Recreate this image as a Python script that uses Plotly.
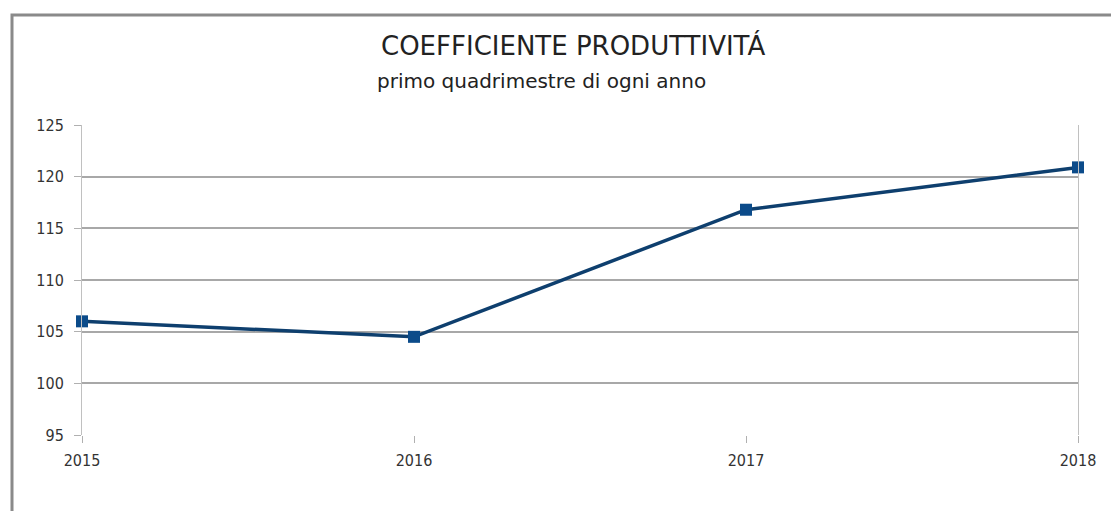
import plotly.graph_objects as go

# Productivity coefficient, first four-month period of each year
years = [2015, 2016, 2017, 2018]
coefficient = [106.0, 104.5, 116.8, 120.9]
y_ticks = [95, 100, 105, 110, 115, 120, 125]
x_ticks = [2015, 2016, 2017, 2018]

title_text = "COEFFICIENTE PRODUTTIVITÁ"
subtitle_text = "primo quadrimestre di ogni anno"

fig = go.Figure()
fig.add_trace(go.Scatter(
    x=years, y=coefficient, mode="lines+markers",
    line=dict(color="#0e3f6e", width=3.5),
    marker=dict(symbol="square", size=12, color="#0b4b8a"),
    cliponaxis=False, showlegend=False,
))

tick_font = dict(family="DejaVu Sans Condensed, Liberation Sans Narrow", size=16, color="#333333")

fig.update_layout(
    width=1111, height=511,
    margin=dict(l=82, r=33, t=125, b=76),
    paper_bgcolor="white", plot_bgcolor="white",
    xaxis=dict(
        range=[2015, 2018], tickvals=x_ticks, ticktext=[str(v) for v in x_ticks],
        showgrid=False, zeroline=False,
        showline=False, ticks="outside", ticklen=7, tickcolor="#b0b0b0",
        tickfont=tick_font, ticklabelstandoff=4,
    ),
    yaxis=dict(
        range=[95, 125], tickvals=y_ticks,
        showgrid=True, gridcolor="#a8a8a8", gridwidth=1.5, zeroline=False,
        showline=True, linecolor="#c0c0c0", linewidth=1, mirror=True,
        ticks="outside", ticklen=7, tickcolor="#b0b0b0",
        tickfont=tick_font, ticklabelstandoff=7,
    ),
    annotations=[
        dict(text=title_text, xref="paper", yref="paper", x=(573 - 82) / 996, y=(435 - 46) / 310,
             showarrow=False, xanchor="center", yanchor="middle",
             font=dict(family="DejaVu Sans, Liberation Sans", size=26, color="#222222")),
        dict(text=subtitle_text, xref="paper", yref="paper", x=(541 - 82) / 996, y=(435 - 81) / 310,
             showarrow=False, xanchor="center", yanchor="middle",
             font=dict(family="DejaVu Sans, Liberation Sans", size=20, color="#222222")),
    ],
    shapes=[
        # outer chart frame (continues past the right and bottom edges)
        dict(type="rect", xref="paper", yref="paper",
             x0=(12 - 82) / 996, x1=1.2, y0=-0.5, y1=(435 - 15) / 310,
             line=dict(color="#8a8a8a", width=3), fillcolor="rgba(0,0,0,0)", layer="below"),
    ],
)

fig.write_html("out.html")
